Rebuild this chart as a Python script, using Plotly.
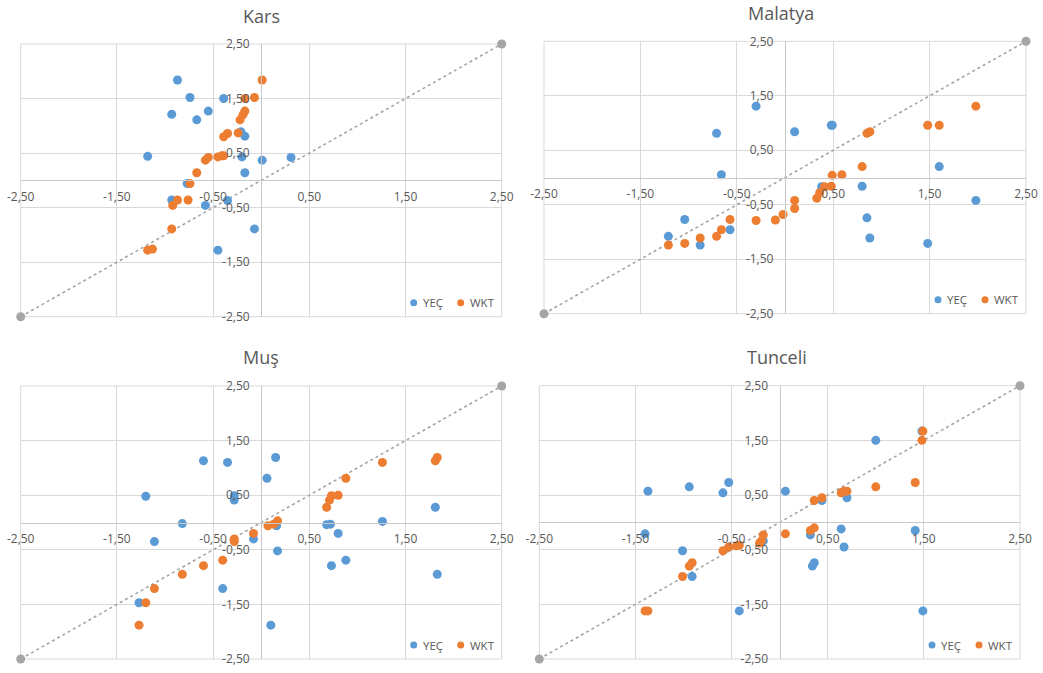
import plotly.graph_objects as go

# Tick positions and labels (decimal comma)
tick_vals = [-2.5, -1.5, -0.5, 0.5, 1.5, 2.5]
tick_text = ["-2,50", "-1,50", "-0,50", "0,50", "1,50", "2,50"]

cities = ["Kars", "Malatya", "Muş", "Tunceli"]
series_names = ["YEÇ", "WKT"]

kars_yec_x = [-0.87, -0.74, -0.39, -0.55, -0.93, -0.67, -0.21, -0.17, -1.18, -0.20, 0.01, 0.31, -0.17, -0.77, -0.93, -0.58, -0.35, -0.07, -0.45]
kars_yec_y = [1.84, 1.52, 1.50, 1.27, 1.21, 1.11, 0.89, 0.81, 0.44, 0.43, 0.37, 0.42, 0.14, -0.06, -0.36, -0.46, -0.37, -0.89, -1.28]
kars_wkt_x = [0.01, -0.07, -0.17, -0.17, -0.19, -0.22, -0.24, -0.35, -0.39, -0.45, -0.41, -0.39, -0.55, -0.58, -0.67, -0.74, -0.87, -0.92, -0.76, -0.93, -1.18, -1.13]
kars_wkt_y = [1.84, 1.52, 1.50, 1.27, 1.20, 1.11, 0.87, 0.86, 0.80, 0.43, 0.45, 0.45, 0.42, 0.37, 0.14, -0.06, -0.36, -0.46, -0.36, -0.89, -1.28, -1.26]

malatya_yec_x = [-0.30, -0.71, 0.10, 0.48, 0.49, -0.66, 1.60, 0.38, 0.80, 1.98, 0.85, 0.88, 1.48, -1.04, -0.57, -1.21, -0.88]
malatya_yec_y = [1.31, 0.81, 0.84, 0.96, 0.96, 0.05, 0.20, -0.17, -0.16, -0.42, -0.74, -1.11, -1.21, -0.77, -0.96, -1.08, -1.24]
malatya_wkt_x = [1.98, 1.48, 1.60, 0.85, 0.88, 0.80, 0.49, 0.59, 0.48, 0.41, 0.36, 0.33, 0.10, 0.10, -0.02, -0.10, -0.30, -0.57, -0.66, -0.71, -0.88, -1.04, -1.21]
malatya_wkt_y = [1.31, 0.96, 0.96, 0.81, 0.84, 0.20, 0.04, 0.05, -0.16, -0.17, -0.28, -0.38, -0.42, -0.57, -0.68, -0.78, -0.79, -0.77, -0.96, -1.08, -1.11, -1.21, -1.24]

mus_yec_x = [-0.60, -0.35, 0.15, 0.06, -1.20, -0.28, -0.28, -0.82, -1.11, -0.08, 0.16, 0.17, 0.68, 0.72, 0.80, 0.88, 0.73, 1.26, 1.81, 1.83, -0.40, -1.27, 0.10]
mus_yec_y = [1.13, 1.10, 1.19, 0.81, 0.48, 0.49, 0.41, -0.02, -0.35, -0.30, -0.06, -0.52, -0.04, -0.03, -0.20, -0.69, -0.79, 0.02, 0.28, -0.95, -1.21, -1.47, -1.88]
mus_wkt_x = [1.83, 1.81, 1.26, 0.88, 0.80, 0.73, 0.71, 0.68, 0.17, 0.13, 0.07, -0.08, -0.28, -0.28, -0.40, -0.60, -0.82, -1.11, -1.20, -1.27]
mus_wkt_y = [1.19, 1.13, 1.10, 0.81, 0.50, 0.49, 0.41, 0.28, 0.03, -0.03, -0.06, -0.20, -0.30, -0.35, -0.69, -0.79, -0.95, -1.21, -1.47, -1.88]

tunceli_yec_x = [1.48, 1.00, -1.37, -0.94, -0.59, -0.53, 0.06, 0.44, 0.70, 0.64, 1.41, 0.67, 0.32, 0.36, 0.34, -1.40, -1.01, -0.91, -0.17, -0.42, 1.49]
tunceli_yec_y = [1.67, 1.50, 0.57, 0.65, 0.54, 0.73, 0.57, 0.40, 0.45, -0.12, -0.15, -0.45, -0.23, -0.74, -0.80, -0.21, -0.52, -0.99, -0.34, -1.62, -1.62]
tunceli_wkt_x = [1.49, 1.48, 1.41, 1.00, 0.67, 0.70, 0.64, 0.44, 0.36, 0.36, 0.32, 0.06, -0.17, -0.19, -0.21, -0.42, -0.45, -0.53, -0.59, -0.91, -0.94, -1.01, -1.40, -1.37]
tunceli_wkt_y = [1.67, 1.50, 0.73, 0.65, 0.57, 0.57, 0.54, 0.45, 0.40, -0.10, -0.15, -0.21, -0.23, -0.34, -0.38, -0.42, -0.43, -0.45, -0.52, -0.74, -0.80, -0.99, -1.62, -1.62]

# Reference diagonal end points
diag = [-2.5, 2.5]

series = [
    (kars_yec_x, kars_yec_y, kars_wkt_x, kars_wkt_y),
    (malatya_yec_x, malatya_yec_y, malatya_wkt_x, malatya_wkt_y),
    (mus_yec_x, mus_yec_y, mus_wkt_x, mus_wkt_y),
    (tunceli_yec_x, tunceli_yec_y, tunceli_wkt_x, tunceli_wkt_y),
]

W, H = 1043, 673
# panel boxes in pixels: left, right, top, bottom
boxes = [
    (20.7, 501.7, 44.0, 316.7),
    (544.0, 1026.0, 41.3, 313.7),
    (20.7, 501.7, 386.0, 659.0),
    (539.3, 1020.0, 385.7, 659.0),
]
title_pos = [(261, 16), (781, 13), (261, 357), (777, 357)]

BLUE = "#5B9BD5"
ORANGE = "#ED7D31"
GREY = "#A5A5A5"
TXT = "#595959"
GRID = "#D9D9D9"
FONT = "Open Sans"


def px(x):
    return x / W


def py(y):
    return 1 - y / H


fig = go.Figure()
annotations = []
shapes = []
layout = dict(
    width=W, height=H,
    margin=dict(l=0, r=0, t=0, b=0, autoexpand=False),
    paper_bgcolor="white", plot_bgcolor="white",
    font=dict(family=FONT, color=TXT, size=12),
    showlegend=False,
)

for i, (city, (yx, yy, wx, wy), box) in enumerate(zip(cities, series, boxes)):
    n = "" if i == 0 else str(i + 1)
    xa, ya = "x" + n, "y" + n
    l, r, t, b = box
    xd = [px(l), px(r)]
    yd = [py(b), py(t)]

    fig.add_trace(go.Scatter(
        x=diag, y=diag, mode="lines+markers",
        line=dict(color=GREY, width=1.6, dash="dot"),
        marker=dict(color=GREY, size=9), cliponaxis=False,
        xaxis=xa, yaxis=ya, hoverinfo="skip"))
    fig.add_trace(go.Scatter(
        x=yx, y=yy, mode="markers", name=series_names[0],
        marker=dict(color=BLUE, size=9), cliponaxis=False,
        xaxis=xa, yaxis=ya))
    fig.add_trace(go.Scatter(
        x=wx, y=wy, mode="markers", name=series_names[1],
        marker=dict(color=ORANGE, size=9), cliponaxis=False,
        xaxis=xa, yaxis=ya))

    common = dict(
        range=[-2.5, 2.5], tickvals=tick_vals, ticktext=tick_text,
        showgrid=True, gridcolor=GRID, gridwidth=1, zeroline=False,
        showline=True, linecolor="#C8C8C8", linewidth=1.3, ticks="",
        tickfont=dict(family=FONT, size=12, color=TXT),
        fixedrange=True, anchor="free", automargin=False,
    )
    layout["xaxis" + n] = dict(common, domain=xd, position=(yd[0] + yd[1]) / 2,
                               side="bottom", ticklabelstandoff=5)
    layout["yaxis" + n] = dict(common, domain=yd, position=(xd[0] + xd[1]) / 2,
                               side="left", ticklabelstandoff=9)

    # outer frame of the plot area
    shapes.append(dict(
        type="rect", xref="paper", yref="paper", x0=xd[0], x1=xd[1], y0=yd[0], y1=yd[1],
        line=dict(color=GRID, width=1), layer="below"))

    # legend: coloured dot followed by series name, bottom right of the panel
    ly = b - 14
    for dx, name, col in [(-88, series_names[0], BLUE), (-41, series_names[1], ORANGE)]:
        cx = r + dx
        shapes.append(dict(
            type="circle", xref="paper", yref="paper",
            x0=px(cx - 3.5), x1=px(cx + 3.5), y0=py(ly + 3.5), y1=py(ly - 3.5),
            fillcolor=col, line=dict(width=0)))
        annotations.append(dict(
            text=name, x=px(cx + 7), y=py(ly), xref="paper", yref="paper",
            showarrow=False, xanchor="left", yanchor="middle",
            font=dict(family=FONT, size=11.5, color=TXT)))

    tx, ty = title_pos[i]
    annotations.append(dict(
        text=city, x=px(tx), y=py(ty), xref="paper", yref="paper",
        showarrow=False, xanchor="center", yanchor="middle",
        font=dict(family=FONT, size=18, color=TXT)))

layout["annotations"] = annotations
layout["shapes"] = shapes
fig.update_layout(**layout)
fig.write_html("out.html")
